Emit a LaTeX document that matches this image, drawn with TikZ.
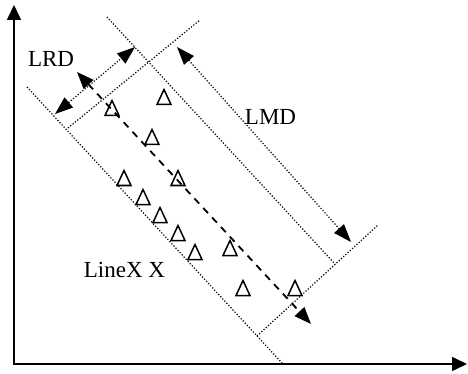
\documentclass[tikz,border=0pt]{standalone}
\usepackage{fontspec}
\setmainfont{Liberation Serif}
\usetikzlibrary{arrows.meta}
\begin{document}
\begin{tikzpicture}[x=1pt,y=-1pt,
  axisline/.style={line width=1.6pt,{Triangle[length=15pt,width=14pt]}-{Triangle[length=15pt,width=14pt]}},
  dotline/.style={line width=1.2pt,dash pattern=on 1.2pt off 1.8pt},
  dimarrow/.style={dotline,{Triangle[length=18pt,width=13pt]}-{Triangle[length=18pt,width=13pt]}},
  mainarrow/.style={line width=1.8pt,dash pattern=on 7pt off 6pt,{Triangle[length=17pt,width=13pt]}-{Triangle[length=17pt,width=13pt]}},
  tri/.pic={\draw[line width=1.5pt,line join=miter] (-7,7.5) -- (0,-7.5) -- (7,7.5) -- cycle;},
  lbl/.style={anchor=base,inner sep=0pt,font=\fontsize{23}{27}\selectfont}]
\useasboundingbox (0,0) rectangle (468,374);
% axes
\coordinate (ytip) at (14,5);
\coordinate (xtip) at (467,364);
\draw[axisline] (ytip) |- (xtip);
% band boundaries
\coordinate (l1a) at (27,87);   \coordinate (l1b) at (282,363);
\coordinate (l2a) at (107,17);  \coordinate (l2b) at (335,264);
\coordinate (p1a) at (68,128);  \coordinate (p1b) at (200,20);
\coordinate (p2a) at (257,336); \coordinate (p2b) at (378,225);
\draw[dotline] (l1a) -- (l1b);
\draw[dotline] (l2a) -- (l2b);
\draw[dotline] (p1a) -- (p1b);
\draw[dotline] (p2a) -- (p2b);
% dimension arrows
\coordinate (lrda) at (55,114); \coordinate (lrdb) at (135,47);
\coordinate (lmda) at (177,47); \coordinate (lmdb) at (351,242);
\draw[dimarrow] (lrda) -- (lrdb);
\draw[dimarrow] (lmda) -- (lmdb);
% main direction
\coordinate (ma) at (77,72); \coordinate (mb) at (311,324);
\draw[mainarrow] (ma) -- (mb);
% data points
\foreach \p in {(112,108),(164,97),(152,137),(124,178),(178,178),(143,197),
  (160,215),(178,233),(195,252),(230,248),(243,288),(295,288)}
  \pic at \p {tri};
% labels
\node[lbl] (lrd) at (51,67) {LRD};
\node[lbl] (lmd) at (270.5,125) {LMD};
\node[lbl] (linex) at (124.5,277) {LineX X};
\end{tikzpicture}
\end{document}
